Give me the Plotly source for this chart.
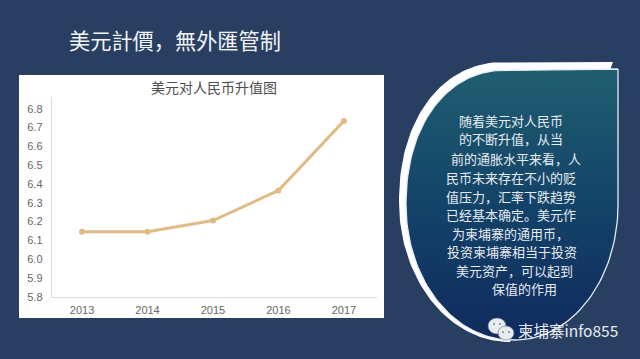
import numpy as np
import plotly.graph_objects as go

years = ["2013", "2014", "2015", "2016", "2017"]
rates = [6.145, 6.145, 6.205, 6.365, 6.735]
y_ticks = [5.8, 5.9, 6.0, 6.1, 6.2, 6.3, 6.4, 6.5, 6.6, 6.7, 6.8]

page_title = "美元計價，無外匯管制"
chart_title = "美元对人民币升值图"
watermark = "柬埔寨info855"
body_lines = [
    ("随着美元对人民币", 457, 120),
    ("的不断升值，从当", 457, 139),
    ("前的通胀水平来看，人", 449, 158),
    ("民币未来存在不小的贬", 444, 177),
    ("值压力，汇率下跌趋势", 444, 196),
    ("已经基本确定。美元作", 444, 214),
    ("为柬埔寨的通用币，", 450, 233),
    ("投资柬埔寨相当于投资", 445, 252),
    ("美元资产，可以起到", 454, 270),
    ("保值的作用", 490, 288),
]

W, H = 640, 359
BG = "#283f62"
CJK = "Noto Sans CJK SC"


def px(x):
    return x / W


def py(y):
    return 1 - y / H


def arc(cx, cy, rx, ry, a0, a1, n=50, p=2.0):
    t = np.radians(np.linspace(a0, a1, n))
    c, s = np.cos(t), np.sin(t)
    xs = cx + rx * np.sign(c) * np.abs(c) ** (2 / p)
    ys = cy + ry * np.sign(s) * np.abs(s) ** (2 / p)
    return xs, ys


fig = go.Figure()

# leaf-shaped panel (decoration, in page pixels on a hidden overlay axis)
ox1, oy1 = arc(505, 202, 106, 140, 270, 180, p=2.15)
ox2, oy2 = arc(510, 202, 111, 140, 180, 90, p=2.0)
outer_x = np.r_[613, ox1, ox2, 613]
outer_y = np.r_[62, oy1, oy2, 62]
fig.add_trace(go.Scatter(x=outer_x, y=outer_y, xaxis="x2", yaxis="y2", mode="lines",
                         fill="toself", fillcolor="white", line=dict(color="white", width=0),
                         hoverinfo="skip", showlegend=False))

ix1, iy1 = arc(507, 205, 101, 135, 270, 180, p=2.15)
ix2, iy2 = arc(512, 205, 106, 135, 180, 90, p=2.0)
ix3, iy3 = arc(515, 205, 103, 135, 90, 0)
inner_x = np.r_[618, ix1, ix2, ix3, 618]
inner_y = np.r_[69, iy1, iy2, iy3, 69]
fig.add_trace(go.Scatter(x=inner_x, y=inner_y, xaxis="x2", yaxis="y2", mode="lines",
                         fill="toself",
                         fillgradient=dict(type="vertical",
                                           colorscale=[[0, "#102a5e"], [0.5, "#134368"], [1, "#1f5e70"]]),
                         line=dict(color="#e6edf5", width=1.3),
                         hoverinfo="skip", showlegend=False))

# the chart itself
fig.add_trace(go.Scatter(x=years, y=rates, mode="lines+markers",
                         line=dict(color="#dfbb85", width=3),
                         marker=dict(color="#dfbb85", size=6),
                         showlegend=False))

shapes = [
    dict(type="rect", xref="paper", yref="paper", x0=px(19), x1=px(384), y0=py(318), y1=py(75),
         fillcolor="white", line=dict(width=0), layer="below"),
]
# WeChat icon
for cx, cy, r, ry in [(497, 326, 9, 8), (506, 333, 8, 7)]:
    shapes.append(dict(type="circle", xref="paper", yref="paper", layer="above",
                       x0=px(cx - r), x1=px(cx + r), y0=py(cy + ry), y1=py(cy - ry),
                       fillcolor="#e9ecf1", line=dict(color="#5a6d88", width=0.6)))
for cx, cy in [(494, 324), (500, 324), (503, 332), (509, 332)]:
    shapes.append(dict(type="circle", xref="paper", yref="paper", layer="above",
                       x0=px(cx - 1), x1=px(cx + 1), y0=py(cy + 1), y1=py(cy - 1),
                       fillcolor="#7a8494", line=dict(width=0)))


def label(text, x, y, size, color, anchor="left"):
    return dict(text=text, x=px(x), y=py(y), xref="paper", yref="paper", xanchor=anchor,
                yanchor="middle", showarrow=False, font=dict(family=CJK, size=size, color=color))


annotations = [
    label(page_title, 67, 40, 21.2, "#f2f5f8"),
    label(chart_title, 214, 87, 14, "#4d4d4d", "center"),
    label(watermark, 516, 330, 15.5, "#e9edf2"),
]
annotations += [label(t, x, y, 13, "#e6ebf0") for t, x, y in body_lines]

fig.update_layout(
    width=W, height=H, margin=dict(l=0, r=0, t=0, b=0, autoexpand=False),
    paper_bgcolor=BG, plot_bgcolor="rgba(0,0,0,0)",
    shapes=shapes, annotations=annotations,
    xaxis=dict(domain=[px(51.7), px(376.7)], type="category", categoryorder="array",
               categoryarray=years, range=[-0.463, 4.5], showgrid=False, zeroline=False,
               showline=True, linecolor="#dcdcdc", linewidth=1, ticks="", ticklabelstandoff=3,
               automargin=False,
               tickfont=dict(family="Liberation Sans", size=11, color="#666666")),
    yaxis=dict(domain=[py(296.7), py(97)], range=[5.8, 6.862], tickmode="array", tickvals=y_ticks,
               ticktext=[f"{v:.1f}" for v in y_ticks], showgrid=False, zeroline=False,
               showline=True, linecolor="#dcdcdc", linewidth=1, ticks="", ticklabelstandoff=6,
               automargin=False,
               tickfont=dict(family="Liberation Sans", size=11, color="#666666")),
    xaxis2=dict(domain=[0, 1], range=[0, W], visible=False, anchor="y2", automargin=False),
    yaxis2=dict(domain=[0, 1], range=[H, 0], visible=False, anchor="x2", automargin=False),
)

fig.write_html("out.html", config=dict(displayModeBar=False),
               post_script=f"document.body.style.margin='0';document.body.style.overflow='hidden';"
                           f"document.body.style.background='{BG}';")
